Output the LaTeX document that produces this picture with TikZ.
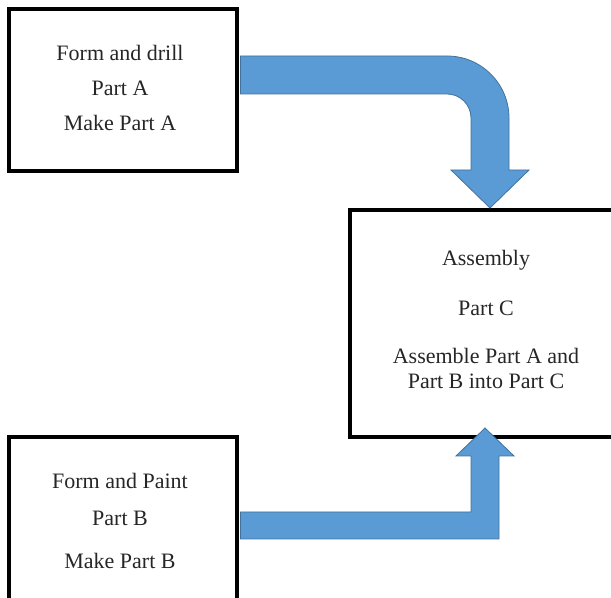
\documentclass[tikz,border=0pt]{standalone}
\usepackage{fontspec}
\setmainfont{Liberation Serif}
\usetikzlibrary{calc}
\definecolor{arrowfill}{HTML}{5B9BD5}
\definecolor{arrowedge}{HTML}{41719C}
\begin{document}
\begin{tikzpicture}[x=0.5pt,y=-0.5pt,
  box/.style={draw=black, line width=1.75pt, inner sep=0pt},
  label/.style={align=center, font=\fontsize{11}{12.5}\selectfont, text=black!85, inner sep=0pt},
  blockarrow/.style={fill=arrowfill, draw=arrowedge, line width=0.4pt, line join=miter}]
\useasboundingbox (0,0) rectangle (611,598);
\clip (0,0) rectangle (611,598);

% process boxes
\path (123,90) node[box, minimum width=114pt, minimum height=81pt] (boxA) {};
\path (486,323.5) node[box, minimum width=136pt, minimum height=113.5pt] (boxC) {};
\path (123,521) node[box, minimum width=114pt, minimum height=84pt] (boxB) {};

% box texts
\node[label] (textA) at ([xshift=-1.5pt,yshift=0.8pt]boxA.center)
  {Form and drill\\[5pt] Part A\\[5pt] Make Part A};
\node[label] (textC) at ([yshift=2pt]boxC.center)
  {Assembly\\[12.5pt] Part C\\[11.5pt] Assemble Part A and\\ Part B into Part C};
\node[label] (textB) at ([xshift=-1.5pt]boxB.center)
  {Form and Paint\\[6pt] Part B\\[9pt] Make Part B};

% block arrows from the part boxes into the assembly box
\coordinate (tipA) at (490,208);
\coordinate (tipB) at (485,428);
\draw[blockarrow] ([xshift=0.9pt]boxA.east |- 0,56) -- (447,56)
  .. controls (481.24,56) and (509,83.76) .. (509,118)
  -- (509,170) -- (529,170) -- (tipA) -- (451,170) -- (471,170) -- (471,118)
  .. controls (471,104.75) and (460.25,94) .. (447,94)
  -- ([xshift=0.9pt]boxA.east |- 0,94) -- cycle;
\draw[blockarrow] ([xshift=0.9pt]boxB.east |- 0,512) -- (471,512) -- (471,456) -- (456,456)
  -- (tipB) -- (514,456) -- (499,456) -- (499,539)
  -- ([xshift=0.9pt]boxB.east |- 0,539) -- cycle;
\end{tikzpicture}
\end{document}
